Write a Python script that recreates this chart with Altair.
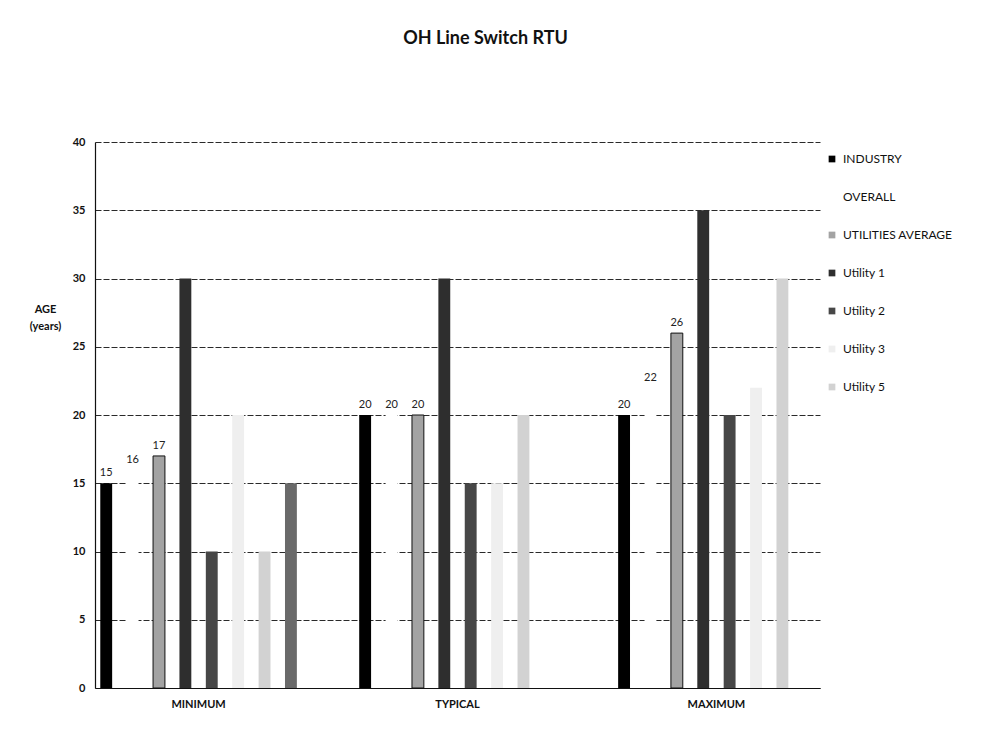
import altair as alt
import pandas as pd

# Age ranges of OH line switch RTUs, one bar per source within each category
categories = ["MINIMUM", "TYPICAL", "MAXIMUM"]
series = ["INDUSTRY", "OVERALL", "UTILITIES AVERAGE", "Utility 1",
          "Utility 2", "Utility 3", "Utility 5", "Utility 6"]
legend_series = series[:7]
labelled_series = ["INDUSTRY", "OVERALL", "UTILITIES AVERAGE"]

industry = [15, 20, 20]
overall = [16, 20, 22]
utilities_average = [17, 20, 26]
utility_1 = [30, 30, 35]
utility_2 = [10, 15, 20]
utility_3 = [20, 15, 22]
utility_5 = [10, 20, 30]
utility_6 = [15, None, None]

fills = ["#000000", "#ffffff", "#a3a3a3", "#2e2e2e",
         "#474747", "#efefef", "#d2d2d2", "#6a6a6a"]

values_by_series = [industry, overall, utilities_average, utility_1,
                    utility_2, utility_3, utility_5, utility_6]

rows = []
for name, vals in zip(series, values_by_series):
    for cat, v in zip(categories, vals):
        if v is not None:
            rows.append({"category": cat, "series": name, "age": v})
df = pd.DataFrame(rows)

FONT = "Lato"

x_enc = alt.X("category:N", sort=categories,
              scale=alt.Scale(paddingInner=0.2, paddingOuter=0.0),
              axis=alt.Axis(title=None, labelAngle=0, ticks=False,
                            labelPadding=10, labelFontWeight="bold",
                            labelFontSize=11, labelColor="#111",
                            domainColor="#111", domainWidth=1.2))
xoff_enc = alt.XOffset("series:N", sort=series,
                       scale=alt.Scale(domain=series, paddingInner=0.55,
                                       paddingOuter=0.2))
y_enc = alt.Y("age:Q",
              scale=alt.Scale(domain=[0, 40], nice=False),
              axis=alt.Axis(values=[0, 5, 10, 15, 20, 25, 30, 35, 40],
                            title=["AGE", "(years)"], titleAngle=0,
                            titleX=-50, titleY=172, titleAlign="center",
                            titleFontWeight="bold", titleFontSize=11,
                            titleColor="#111", titleLineHeight=17,
                            labelFontSize=11, labelFontWeight="bold",
                            labelColor="#111", labelPadding=10,
                            ticks=False, domainColor="#111",
                            domainWidth=1.2, gridColor="#2a2a2a",
                            gridDash=[6, 2], gridWidth=1))

bars = alt.Chart(df).mark_bar().encode(
    x=x_enc,
    xOffset=xoff_enc,
    y=y_enc,
    color=alt.Color("series:N", sort=series,
                    scale=alt.Scale(domain=series, range=fills),
                    legend=alt.Legend(values=legend_series, title=None,
                                      orient="none", legendX=731,
                                      legendY=11, symbolType="square",
                                      symbolSize=45, symbolStrokeWidth=0,
                                      labelFontSize=12, labelColor="#111",
                                      labelFont=FONT, rowPadding=26,
                                      labelOffset=5)),
    stroke=alt.condition(alt.datum.series == "UTILITIES AVERAGE",
                         alt.value("#111"), alt.value("transparent")),
)

labels = alt.Chart(df).transform_filter(
    alt.FieldOneOfPredicate(field="series", oneOf=labelled_series)
).mark_text(baseline="bottom", dy=-5, fontSize=11, color="#222",
            font=FONT).encode(
    x=alt.X("category:N", sort=categories),
    xOffset=alt.XOffset("series:N", sort=series,
                        scale=alt.Scale(domain=series)),
    y=alt.Y("age:Q"),
    text=alt.Text("age:Q"),
)

chart = alt.layer(bars, labels).properties(
    width=725, height=546,
    padding={"left": 95, "top": 142, "right": 188, "bottom": 59},
    autosize=alt.AutoSizeParams(type="none"),
    title=alt.Title("OH Line Switch RTU", fontSize=18, fontWeight="bold",
                    font=FONT, color="#111", anchor="middle", offset=88,
                    dx=28),
).configure(font=FONT).configure_view(stroke=None)

chart.save("out.html", embed_options={"renderer": "svg", "actions": False})
